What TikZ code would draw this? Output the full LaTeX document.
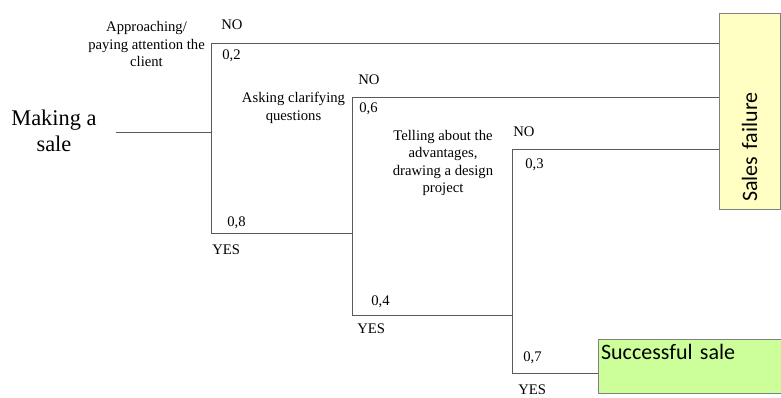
\documentclass[tikz,border=0pt]{standalone}
\usepackage{fontspec}
\setmainfont{LiberationSerif}[Extension=.ttf,UprightFont=*-Regular,BoldFont=*-Bold,ItalicFont=*-Italic]
\newfontfamily\calib{Carlito}
\definecolor{failfill}{RGB}{255,255,196}
\definecolor{winfill}{RGB}{204,255,153}
\newcommand{\lblsize}{\fontsize{11}{13}\selectfont}

\begin{document}
\begin{tikzpicture}[x=0.75pt,y=-0.75pt,
   branch/.style={draw=black!65,line width=0.6pt},
   lbl/.style={font=\lblsize,inner sep=0pt,anchor=base west},
   stage/.style={font=\lblsize,inner sep=0pt,align=center},
   endbox/.style={draw=black!50,line width=0.6pt,font=\calib\fontsize{16.5}{18}\selectfont,align=left}]
   \useasboundingbox (0,0) rectangle (781,398);
   % end boxes
   \node[endbox,fill=failfill,rotate=90,text width=136.5pt,inner xsep=5.25pt,
         minimum height=45.75pt] (fail) at (749.5,111) {Sales failure};
   \node[endbox,fill=winfill,anchor=north west,text width=133.25pt,inner xsep=2pt,
         inner ysep=2pt,text height=13.4pt,text depth=23.1pt] (win) at (598,339) {Successful sale};
   % branch points
   \coordinate (start) at (116,132);
   \coordinate (t1) at (211,43);
   \coordinate (b1) at (211,233);
   \coordinate (t2) at (352,97);
   \coordinate (b2) at (352,315);
   \coordinate (t3) at (512,149);
   \coordinate (b3) at (512,373);
   \draw[branch] (start) -- (t1 |- start);
   \draw[branch] (fail.north |- t1) -- (t1) -- (b1) -- (b1 -| t2);
   \draw[branch] (fail.north |- t2) -- (t2) -- (b2) -- (b2 -| t3);
   \draw[branch] (fail.north |- t3) -- (t3) -- (b3) -- (b3 -| win.west);
   % stages
   \node[align=center,inner sep=0pt,font=\fontsize{16.8}{20}\selectfont] (sale) at (54,131) {Making a\\sale};
   \node[stage] (approach) at (146.5,44) {Approaching/\\paying attention the\\client};
   \node[stage] (ask) at (293.5,108) {Asking clarifying\\questions};
   \node[stage] (tell) at (443,163) {Telling about the\\advantages,\\drawing a design\\project};
   % answers and probabilities
   \node[lbl] (no1) at (221,30) {NO};
   \node[lbl] (p02) at (222,60) {0,2};
   \node[lbl] (p08) at (227,227) {0,8};
   \node[lbl] (yes1) at (212,255) {YES};
   \node[lbl] (no2) at (358,85) {NO};
   \node[lbl] (p06) at (359,113) {0,6};
   \node[lbl] (p04) at (371,306) {0,4};
   \node[lbl] (yes2) at (357,334) {YES};
   \node[lbl] (no3) at (513,137) {NO};
   \node[lbl] (p03) at (525,169) {0,3};
   \node[lbl] (p07) at (523,362) {0,7};
   \node[lbl] (yes3) at (518,395) {YES};
\end{tikzpicture}
\end{document}
